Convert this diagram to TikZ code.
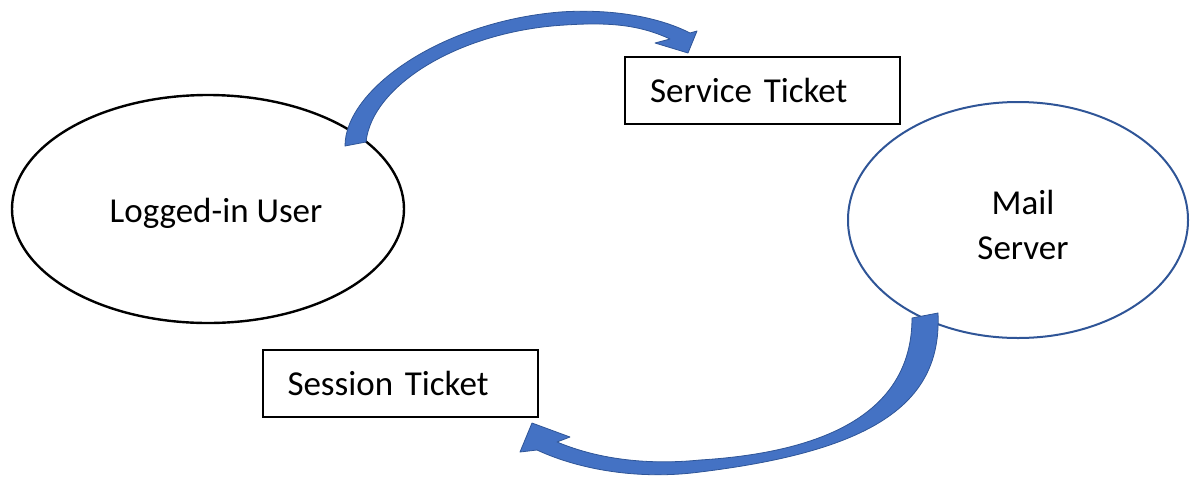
\documentclass[tikz,border=0pt]{standalone}
\usepackage{fontspec}
\setmainfont{Carlito}
\usetikzlibrary{shapes.geometric}
\definecolor{arrowblue}{HTML}{4472C4}
\definecolor{arrowedge}{HTML}{2F5597}
\definecolor{serverblue}{HTML}{2F5597}

\begin{document}
\begin{tikzpicture}[x=0.5pt,y=-0.5pt]
  % Define styles for parties, tickets and flows
  \tikzset{
    party/.style={
      draw,
      ellipse,
      inner sep=0pt,
      line width=1.2pt
    },
    partytext/.style={
      align=center,
      font=\fontsize{17.5}{22.5}\selectfont
    },
    ticket/.style={
      draw,
      rectangle,
      line width=1pt,
      minimum height=33.5pt,
      text width=112.5pt,
      inner xsep=12.5pt,
      inner ysep=0pt,
      align=left,
      font=\fontsize{17.5}{21}\selectfont
    },
    flow/.style={
      fill=arrowblue,
      draw=arrowedge,
      line width=0.4pt,
      line join=round
    }
  }
  \useasboundingbox (0,0) rectangle (1190,478);

  % Create the two parties
  \node[party, minimum width=196pt, minimum height=114pt,
    label={[partytext, xshift=4pt, yshift=-2pt]center:Logged-in User}] (user) at (208,209) {};
  \node[party, draw=serverblue, line width=1pt, minimum width=170pt, minimum height=118pt,
    label={[partytext, xshift=2.5pt, yshift=-2.5pt]center:Mail\\Server}] (mail) at (1018,220) {};

  % Create the ticket boxes
  \node[ticket] (service) at (762.5,90.5) {Service Ticket};
  \node[ticket] (session) at (400,383.5) {Session Ticket};

  % Arrow ends
  \coordinate (userTailA) at (345,146);
  \coordinate (userTailB) at (366,142);
  \coordinate (serviceTip) at (688,53);
  \coordinate (mailTailA) at (938,313);
  \coordinate (mailTailB) at (912,318);
  \coordinate (sessionTip) at (532,423);

  % User to service ticket
  \fill[flow] (userTailA) .. controls (345,90) and (440,22) .. (560,12)
    .. controls (620,8) and (665,20) .. (690,33)
    -- (697,31) -- (serviceTip) -- (655,43) -- (670,39)
    .. controls (640,25) and (610,22) .. (565,25)
    .. controls (460,31) and (372,85) .. (userTailB) -- cycle;

  % Mail server to session ticket
  \fill[flow] (mailTailA) .. controls (942,400) and (880,450) .. (700,472)
    .. controls (640,480) and (580,470) .. (537,450)
    -- (520,452) -- (sessionTip) -- (570,437) -- (557,442)
    .. controls (600,460) and (650,465) .. (700,460)
    .. controls (830,452) and (912,410) .. (mailTailB) -- cycle;
\end{tikzpicture}
\end{document}
